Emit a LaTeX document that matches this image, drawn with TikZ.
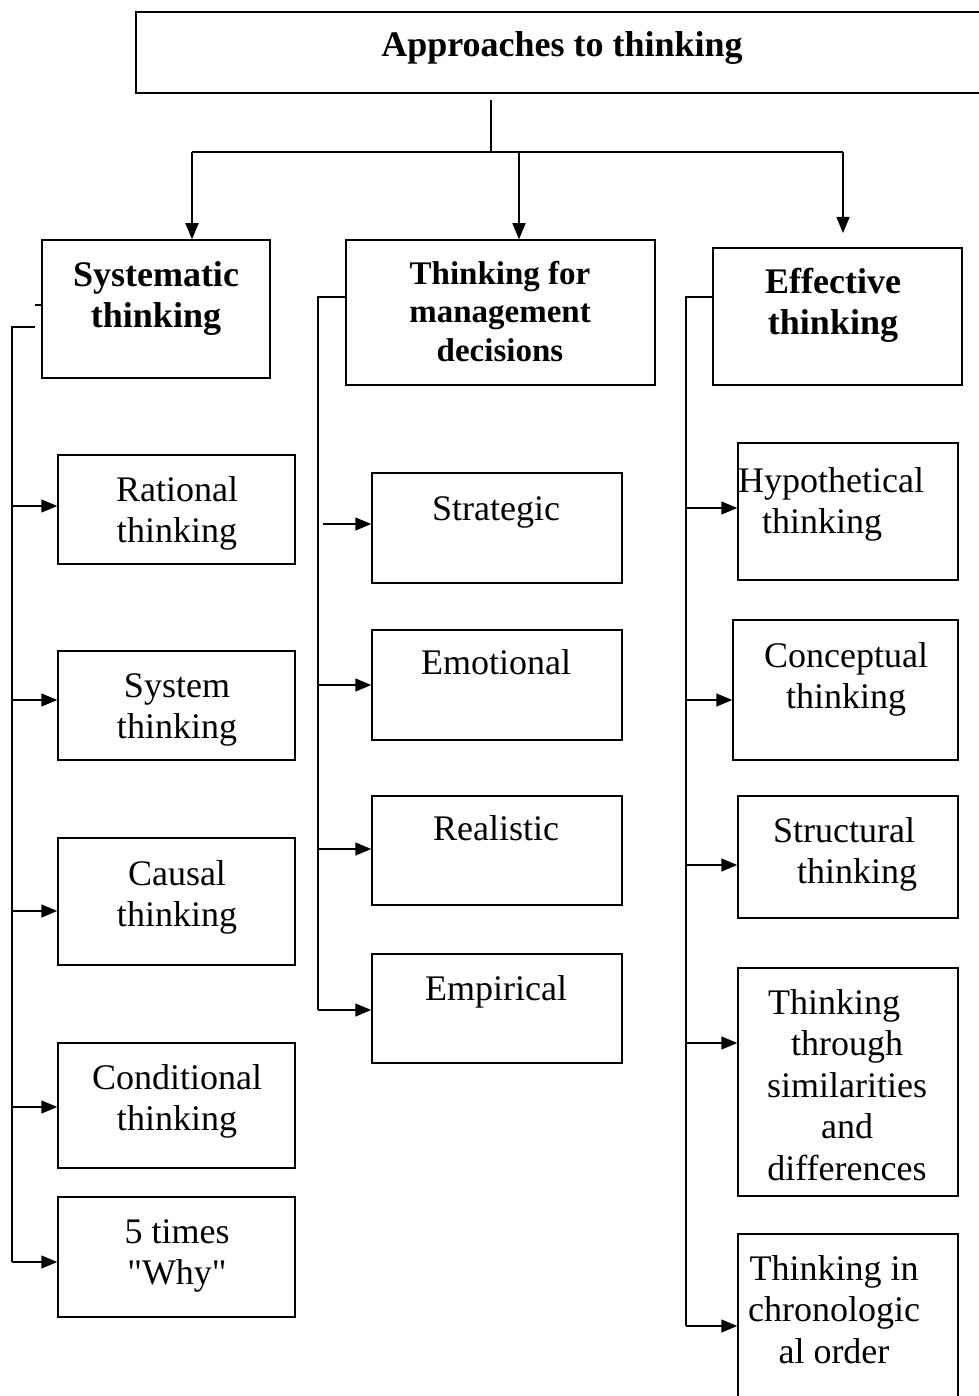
\documentclass[tikz,border=0pt]{standalone}
\usepackage{fontspec}
\setmainfont{Liberation Serif}[Ligatures=TeXOff]
\usetikzlibrary{arrows.meta,fit}
\begin{document}
\begin{tikzpicture}[x=1pt,y=-1pt,
  box/.style={draw, line width=1.5pt, inner sep=0pt},
  conn/.style={line width=1.5pt},
  arr/.style={conn, -{Triangle[length=16pt,width=13pt]}},
  txt/.style={font=\fontsize{36}{41.5}\selectfont, align=center, anchor=base, inner sep=0pt},
  hd/.style={txt, font=\fontsize{36}{41.5}\selectfont\bfseries},
  hdm/.style={txt, font=\fontsize{33}{38.5}\selectfont\bfseries}]
\useasboundingbox (0,0) rectangle (978,1396);
% title
\node[box, fit={(136,12)(990,93)}] (title) {};
\node[hd] (tt) at (562,57) {Approaches to thinking};
% level 1 boxes
\node[box, fit={(42,240)(270,378)}] (s1) {};
\node[hd] at (156,327.5) {Systematic\\thinking};
\node[box, fit={(346,240)(655,385)}] (s2) {};
\node[hdm] at (500,361) {Thinking for\\management\\decisions};
\node[box, fit={(713,248)(962,385)}] (s3) {};
\node[hd] at (833,334.5) {Effective\\thinking};
% top connectors
\coordinate (split) at (491,152);
\coordinate (b1) at (192,152);
\coordinate (b2) at (519,152);
\coordinate (b3) at (843,152);
\draw[conn] (split |- 0,100) -- (split);
\draw[conn] (b1) -- (b3);
\draw[arr] (b1) -- (b1 |- s1.north);
\draw[arr] (b2) -- (b2 |- s2.north);
\draw[arr] (b3) -- (b3 |- 0,233);
% left column
\node[box, fit={(58,455)(295,564)}] (l1) {};
\node[txt] at (177,542.5) {Rational\\thinking};
\node[box, fit={(58,651)(295,760)}] (l2) {};
\node[txt] at (177,738.5) {System\\thinking};
\node[box, fit={(58,838)(295,965)}] (l3) {};
\node[txt] at (177,926.5) {Causal\\thinking};
\node[box, fit={(58,1043)(295,1168)}] (l4) {};
\node[txt] at (177,1130.5) {Conditional\\thinking};
\node[box, fit={(58,1197)(295,1317)}] (l5) {};
\node[txt] at (177,1284.5) {5 times\\"Why"};
\coordinate (lv) at (12,327);
\draw[conn] (35,305) -- (s1.west |- 0,305);
\draw[conn] (35,327) -- (lv) -- (12,1262);
\draw[arr] (12,506) -- (l1.west |- 0,506);
\draw[arr] (12,700) -- (l2.west |- 0,700);
\draw[arr] (12,911) -- (l3.west |- 0,911);
\draw[arr] (12,1107) -- (l4.west |- 0,1107);
\draw[arr] (12,1262) -- (l5.west |- 0,1262);
% middle column
\node[box, fit={(372,473)(622,583)}] (m1) {};
\node[txt] at (496,520) {Strategic};
\node[box, fit={(372,630)(622,740)}] (m2) {};
\node[txt] at (496,674) {Emotional};
\node[box, fit={(372,796)(622,905)}] (m3) {};
\node[txt] at (496,840) {Realistic};
\node[box, fit={(372,954)(622,1063)}] (m4) {};
\node[txt] at (496,1000) {Empirical};
\coordinate (mv) at (318,297);
\draw[conn] (s2.west |- mv) -- (mv) -- (318,1010);
\draw[arr] (323,524) -- (m1.west |- 0,524);
\draw[arr] (318,685) -- (m2.west |- 0,685);
\draw[arr] (318,849) -- (m3.west |- 0,849);
\draw[arr] (318,1010) -- (m4.west |- 0,1010);
% right column
\node[box, fit={(738,443)(958,580)}] (r1) {};
\node[txt, align=left, anchor=base west] at (738,533.5) {Hypothetical\\\rule{24pt}{0pt}thinking};
\node[box, fit={(733,620)(958,760)}] (r2) {};
\node[txt] at (846,708.5) {Conceptual\\thinking};
\node[box, fit={(738,796)(958,918)}] (r3) {};
\node[txt, align=left, anchor=base west] at (773,883.5) {Structural\\\rule{24pt}{0pt}thinking};
\node[box, fit={(738,968)(958,1196)}] (r4) {};
\node[txt] at (847,1180) {Thinking\rule{26pt}{0pt}\\through\\similarities\\and\\differences};
\node[box, fit={(738,1234)(958,1410)}] (r5) {};
\node[txt] at (834,1363) {Thinking in\\chronologic\\al order};
\coordinate (rv) at (686,297);
\draw[conn] (s3.west |- rv) -- (rv) -- (686,1326);
\draw[arr] (686,508) -- (r1.west |- 0,508);
\draw[arr] (686,700) -- (r2.west |- 0,700);
\draw[arr] (686,865) -- (r3.west |- 0,865);
\draw[arr] (686,1043) -- (r4.west |- 0,1043);
\draw[arr] (686,1326) -- (r5.west |- 0,1326);
\end{tikzpicture}
\end{document}
